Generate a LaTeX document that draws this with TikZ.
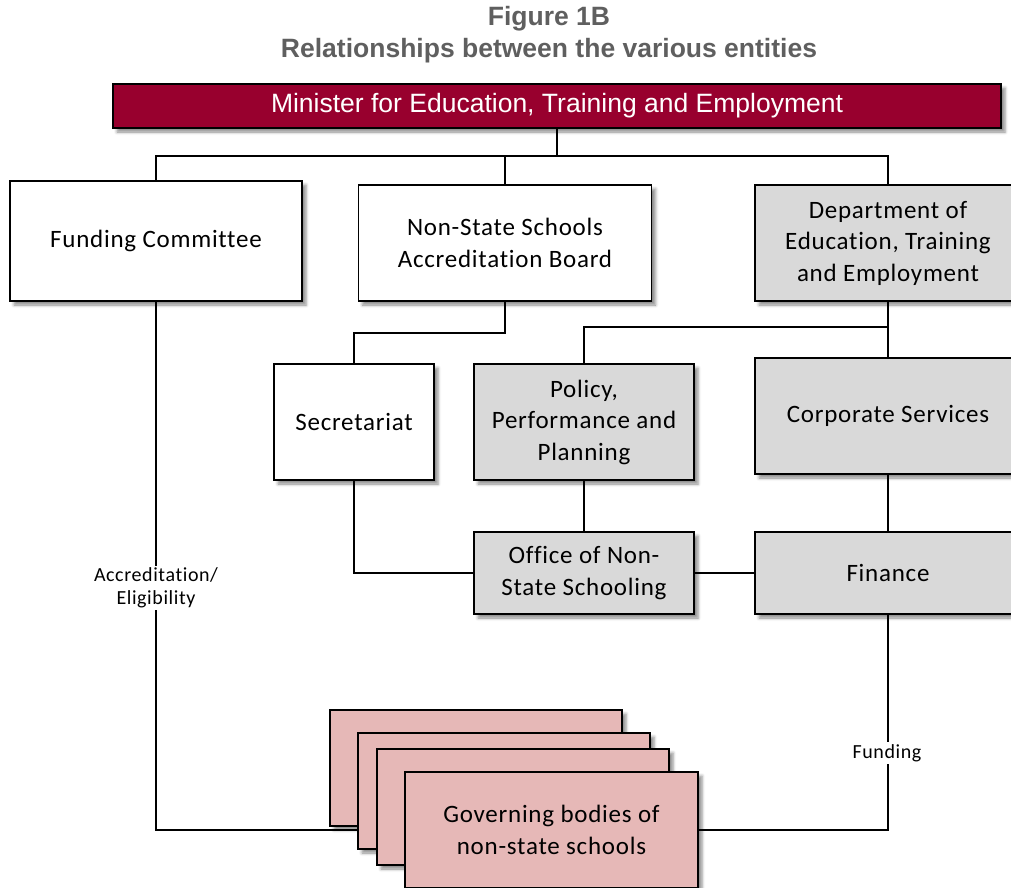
\documentclass[tikz,border=0pt]{standalone}
\usepackage{fontspec}
\setmainfont{Liberation Sans}
\newfontfamily\calfont{Carlito}[LetterSpace=3, Ligatures=NoCommon]
\usetikzlibrary{shadows.blur,backgrounds}

\definecolor{minred}{RGB}{152,0,46}
\definecolor{unitgray}{RGB}{217,217,217}
\definecolor{schoolpink}{RGB}{230,184,183}
\definecolor{titlegray}{RGB}{95,95,95}

\tikzset{
  softshadow/.style={blur shadow={shadow xshift=4pt, shadow yshift=-4pt,
      shadow blur radius=3pt, shadow opacity=45}},
  orgbox/.style={draw=black, line width=1.8pt, fill=white, inner sep=0pt,
      align=center, softshadow,
      font=\calfont\fontsize{25}{31.5}\selectfont},
  deptbox/.style={orgbox, fill=unitgray},
  schoolbox/.style={orgbox, fill=schoolpink},
  link/.style={draw=black, line width=1.5pt},
  linklabel/.style={fill=white, inner sep=2pt, align=center,
      font=\calfont\fontsize{20}{22.5}\selectfont}
}

\begin{document}
\begin{tikzpicture}[x=1pt, y=-1pt]
\useasboundingbox (0,0) rectangle (1011,887);

% title
\node[font=\bfseries\fontsize{26.5}{32}\selectfont, text=titlegray, align=center]
  (title) at (549,35) {Figure 1B\\Relationships between the various entities};

% minister
\node[draw=black, line width=1.8pt, fill=minred, text=white, softshadow,
      minimum width=888pt, minimum height=44pt, inner sep=0pt,
      font=\fontsize{26.5}{30}\selectfont]
  (min) at (557,106) {Minister for Education, Training and Employment};

% first level
\node[orgbox, minimum width=292pt, minimum height=120pt] (fc) at (156,241)
  {Funding Committee};
\node[orgbox, minimum width=293pt, minimum height=116pt] (nssab) at (505,243)
  {Non-State Schools\\Accreditation Board};
\node[deptbox, minimum width=266pt, minimum height=116pt] (dept) at (888,243)
  {Department of\\Education, Training\\and Employment};

% second level
\node[orgbox, minimum width=160pt, minimum height=116pt] (sec) at (354,422)
  {Secretariat};
\node[deptbox, minimum width=220pt, minimum height=116pt] (ppp) at (584,422)
  {Policy,\\Performance and\\Planning};
\node[deptbox, minimum width=266pt, minimum height=116pt] (corp) at (888,416)
  {Corporate Services};

% third level
\node[deptbox, minimum width=220pt, minimum height=82pt] (onss) at (584,573)
  {Office of Non-\\State Schooling};
\node[deptbox, minimum width=266pt, minimum height=82pt] (fin) at (888,573)
  {Finance};

% stack of governing bodies
\node[schoolbox, minimum width=292pt, minimum height=116pt] (gb1) at (476,768) {};
\node[schoolbox, minimum width=292pt, minimum height=116pt] (gb2) at (504,791) {};
\node[schoolbox, minimum width=292pt, minimum height=116pt] (gb3) at (523,807) {};
\node[schoolbox, minimum width=293pt, minimum height=116pt] (gb) at (551.5,830)
  {Governing bodies of\\non-state schools};

% connectors
\begin{pgfonlayer}{background}
  \coordinate (bus) at (557,156);
  \coordinate (deptjoin) at (888,327);
  \path[link] (min.south) -- (bus);
  \path[link] (fc.north) |- (bus) -| (dept.north);
  \path[link] (nssab.north) -- (nssab.north |- bus);
  \path[link] (nssab.south) -- ++(0,31) -| (sec.north);
  \path[link] (dept.south) -- (corp.north);
  \path[link] (ppp.north) |- (deptjoin);
  \path[link] (ppp.south) -- (onss.north);
  \path[link] (corp.south) -- (fin.north);
  \path[link] (onss.east) -- (fin.west);
  \path[link] (sec.south) |- (onss.west);
  \path[link] (fc.south) |- (gb.west);
  \path[link] (fin.south) |- (gb.east);
\end{pgfonlayer}

% connector labels
\node[linklabel] (accr) at (156,588) {Accreditation/\\Eligibility};
\node[linklabel] (fund) at (887,753) {Funding};

\end{tikzpicture}
\end{document}
